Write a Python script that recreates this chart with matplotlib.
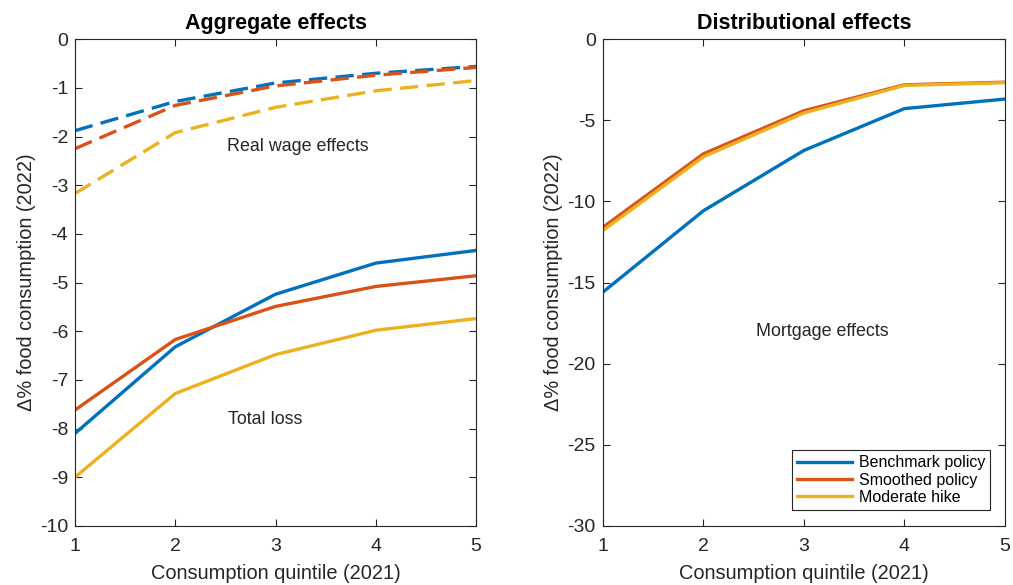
import matplotlib
matplotlib.use("Agg")
import matplotlib.pyplot as plt

quintiles = [1, 2, 3, 4, 5]
policies = ["Benchmark policy", "Smoothed policy", "Moderate hike"]
colors = ["#0072BD", "#D95319", "#EDB120"]

# left panel: real wage effects (dashed) and total loss (solid)
real_wage = [
    [-1.88, -1.28, -0.90, -0.70, -0.56],
    [-2.25, -1.36, -0.96, -0.74, -0.58],
    [-3.17, -1.92, -1.40, -1.06, -0.85],
]
total_loss = [
    [-8.10, -6.32, -5.24, -4.60, -4.34],
    [-7.62, -6.17, -5.49, -5.08, -4.86],
    [-9.00, -7.28, -6.48, -5.98, -5.74],
]
# right panel: mortgage effects
mortgage = [
    [-15.6, -10.58, -6.86, -4.28, -3.69],
    [-11.6, -7.07, -4.41, -2.81, -2.65],
    [-11.8, -7.25, -4.55, -2.85, -2.68],
]

plt.rcParams["font.family"] = ["Liberation Sans", "DejaVu Sans"]
plt.rcParams["axes.unicode_minus"] = False
axis_color = "#262626"

fig = plt.figure(figsize=(10.13, 5.85), dpi=100)
ax1 = fig.add_axes([0.074, 0.101, 0.396, 0.832])
ax2 = fig.add_axes([0.595, 0.101, 0.397, 0.832])

for i in range(3):
    ax1.plot(quintiles, real_wage[i], "--", color=colors[i], lw=2.4, dashes=(5.5, 2.5))
    ax1.plot(quintiles, total_loss[i], "-", color=colors[i], lw=2.4)
    ax2.plot(quintiles, mortgage[i], "-", color=colors[i], lw=2.4, label=policies[i])

ax1.text(3.22, -2.2, "Real wage effects", ha="center", va="center", fontsize=12.9, color=axis_color)
ax1.text(2.9, -7.82, "Total loss", ha="center", va="center", fontsize=12.9, color=axis_color)
ax2.text(3.18, -18.0, "Mortgage effects", ha="center", va="center", fontsize=12.9, color=axis_color)

ax1.set_ylim(-10, 0)
ax1.set_yticks(range(-10, 1))
ax2.set_ylim(-30, 0)
ax2.set_yticks(range(-30, 1, 5))
ax1.set_title("Aggregate effects", fontsize=15.5, fontweight="bold", pad=7)
ax2.set_title("Distributional effects", fontsize=15.5, fontweight="bold", pad=7)

for ax in (ax1, ax2):
    ax.set_xlim(1, 5)
    ax.set_xticks(quintiles)
    ax.set_xlabel("Consumption quintile (2021)", fontsize=14.4, color=axis_color, labelpad=6)
    ax.set_ylabel("Δ% food consumption (2022)", fontsize=14.4, color=axis_color, labelpad=3)
    ax.tick_params(direction="in", top=True, right=True, labelsize=14, colors=axis_color,
                   length=5, width=0.8)
    ax.tick_params(axis="x", pad=9)
    ax.tick_params(axis="y", pad=5)
    for s in ax.spines.values():
        s.set_color(axis_color)
        s.set_linewidth(0.8)

leg = ax2.legend(loc="lower right", fontsize=11.5, handlelength=3.5, handletextpad=0.4,
                 borderpad=0.3, labelspacing=0.15, fancybox=False, framealpha=1,
                 edgecolor=axis_color, borderaxespad=0, bbox_to_anchor=(0.963, 0.033))
leg.get_frame().set_linewidth(0.8)

fig.savefig("out.png", dpi=100)
